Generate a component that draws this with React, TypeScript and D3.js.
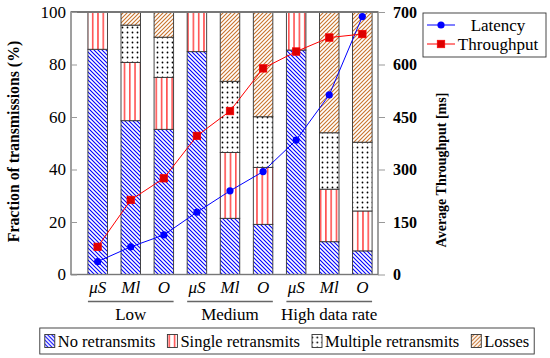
import React, { useEffect, useRef } from 'react';
import * as d3 from 'd3';

// groups / schemes on the x axis
const groups = ['Low', 'Medium', 'High data rate'];
const schemes = ['μS', 'Ml', 'O'];

// stacked shares (%) per bar, in group-major order
const noRetransmits = [85.8, 58.6, 55.3, 84.9, 21.4, 19.1, 85.5, 12.5, 9.0];
const singleRetransmits = [14.2, 22.2, 19.8, 15.1, 25.1, 21.7, 14.5, 20.0, 15.2];
const multipleRetransmits = [0, 14.2, 15.3, 0, 27.1, 19.3, 0, 21.5, 26.2];
const losses = [0, 5.0, 9.6, 0, 26.4, 39.9, 0, 46.0, 49.6];

// right axis series
const latency = [37, 79, 113, 178, 239, 294, 384, 513, 737];
const throughput = [79, 213, 275, 396, 467, 589, 637, 677, 687];

const leftTicks = [0, 20, 40, 60, 80, 100];
const rightTicks = [0, 150, 300, 450, 600, 750];
const rightTickLabels = ['0', '150', '300', '450', '600', '700'];

const stackKeys = ['none', 'single', 'multiple', 'losses'];
const legendLabels = ['No retransmits', 'Single retransmits', 'Multiple retransmits', 'Losses'];

const W = 550;
const H = 358;
const frame = { left: 71, right: 378, top: 12, bottom: 274.5 };
const FONT = 'Liberation Serif';
const FS = 17;

const App: React.FC = () => {
  const ref = useRef<SVGSVGElement>(null);

  useEffect(() => {
    const svg = d3.select(ref.current);
    svg.selectAll('*').remove();

    const barIds = groups.flatMap((g) => schemes.map((s) => `${g}|${s}`));
    const rows = barIds.map((id, i) => ({
      id,
      none: noRetransmits[i],
      single: singleRetransmits[i],
      multiple: multipleRetransmits[i],
      losses: losses[i],
    }));

    const x = d3.scaleBand().domain(barIds).range([78, 382]).paddingInner(0.41).paddingOuter(0.3);
    const y = d3.scaleLinear().domain([0, 100]).range([frame.bottom, frame.top]);
    const yR = d3.scaleLinear().domain([0, 750]).range([frame.bottom, frame.top]);

    // patterns
    const defs = svg.append('defs');
    const mk = (id: string, size: number, draw: (p: any) => void) => {
      const p = defs.append('pattern').attr('id', id).attr('patternUnits', 'userSpaceOnUse')
        .attr('width', size).attr('height', size);
      p.append('rect').attr('width', size).attr('height', size).attr('fill', 'white');
      draw(p);
    };
    mk('pat-none', 4, (p) => {
      p.append('path').attr('d', 'M-1,-1 L5,5 M-1,3 L1,5 M3,-1 L5,1').attr('stroke', '#0000ff').attr('stroke-width', 1.1);
    });
    mk('pat-single', 5.3, (p) => {
      p.append('line').attr('x1', 2.6).attr('x2', 2.6).attr('y1', 0).attr('y2', 5.3).attr('stroke', '#ff0000').attr('stroke-width', 1.1);
    });
    mk('pat-multiple', 5, (p) => {
      p.append('circle').attr('cx', 2.5).attr('cy', 2.5).attr('r', 0.9).attr('fill', 'black');
    });
    mk('pat-losses', 4, (p) => {
      p.append('path').attr('d', 'M-1,5 L5,-1 M-1,1 L1,-1 M3,5 L5,3').attr('stroke', '#c8732c').attr('stroke-width', 1.1);
    });

    svg.append('rect').attr('width', W).attr('height', H).attr('fill', 'white');

    // bars
    const stacked = d3.stack<any>().keys(stackKeys)(rows);
    const barG = svg.append('g');
    stacked.forEach((layer) => {
      barG.append('g').selectAll('rect').data(layer.filter((d) => d[1] - d[0] > 0)).enter().append('rect')
        .attr('x', (d) => x(d.data.id)!)
        .attr('width', x.bandwidth())
        .attr('y', (d) => y(d[1]))
        .attr('height', (d) => y(d[0]) - y(d[1]))
        .attr('fill', `url(#pat-${layer.key})`)
        .attr('stroke', '#333')
        .attr('stroke-width', 0.9);
    });

    // frame
    svg.append('rect').attr('x', frame.left).attr('y', frame.top)
      .attr('width', frame.right - frame.left).attr('height', frame.bottom - frame.top)
      .attr('fill', 'none').attr('stroke', '#777').attr('stroke-width', 1.4);
    svg.append('line').attr('x1', frame.left).attr('x2', frame.right).attr('y1', frame.top).attr('y2', frame.top)
      .attr('stroke', '#777').attr('stroke-width', 2);

    // left axis
    const la = svg.append('g').attr('transform', `translate(${frame.left},0)`)
      .call(d3.axisLeft(y).tickValues(leftTicks).tickSize(-6).tickPadding(5));
    la.select('.domain').remove();
    la.attr('font-family', FONT);
    la.selectAll('line').attr('stroke', '#999');
    la.selectAll('text').style('font-family', FONT).attr('font-size', FS).attr('fill', 'black');

    // right axis
    const ra = svg.append('g').attr('transform', `translate(${frame.right},0)`)
      .call(d3.axisRight(yR).tickValues(rightTicks).tickSize(7).tickPadding(8)
        .tickFormat((_d, i) => rightTickLabels[i]));
    ra.select('.domain').remove();
    ra.attr('font-family', FONT);
    ra.selectAll('line').attr('stroke', '#999');
    ra.selectAll('text').style('font-family', FONT).attr('font-size', 16).attr('font-weight', 'bold').attr('fill', 'black');

    // x tick labels
    svg.append('g').selectAll('text').data(barIds).enter().append('text')
      .attr('x', (d) => x(d)! + x.bandwidth() / 2)
      .attr('y', 293)
      .attr('text-anchor', 'middle')
      .style('font-family', FONT).attr('font-size', FS).attr('font-style', 'italic')
      .text((d) => d.split('|')[1]);

    // group labels with underline
    groups.forEach((g) => {
      const first = x(`${g}|${schemes[0]}`)!;
      const last = x(`${g}|${schemes[schemes.length - 1]}`)! + x.bandwidth();
      svg.append('line').attr('x1', first).attr('x2', last).attr('y1', 301.5).attr('y2', 301.5)
        .attr('stroke', '#666').attr('stroke-width', 1.4);
      svg.append('text').attr('x', (first + last) / 2).attr('y', 320).attr('text-anchor', 'middle')
        .style('font-family', FONT).attr('font-size', FS).text(g);
    });

    // lines
    const cx = (i: number) => x(barIds[i])! + x.bandwidth() / 2;
    const lineGen = d3.line<number>().x((_d, i) => cx(i)).y((d) => yR(d));
    svg.append('path').attr('d', lineGen(latency)).attr('fill', 'none').attr('stroke', '#0000ff').attr('stroke-width', 1);
    svg.append('path').attr('d', lineGen(throughput)).attr('fill', 'none').attr('stroke', '#ff0000').attr('stroke-width', 1);
    svg.append('g').selectAll('circle').data(latency).enter().append('circle')
      .attr('cx', (_d, i) => cx(i)).attr('cy', (d) => yR(d)).attr('r', 3.6).attr('fill', '#0000ff');
    svg.append('g').selectAll('rect').data(throughput).enter().append('rect')
      .attr('x', (_d, i) => cx(i) - 3.8).attr('y', (d) => yR(d) - 3.8)
      .attr('width', 7.6).attr('height', 7.6).attr('fill', '#dd0000').attr('stroke', '#ff0000').attr('stroke-width', 0.6);

    // axis titles
    svg.append('text').attr('transform', `translate(19,141.5) rotate(-90)`).attr('text-anchor', 'middle')
      .style('font-family', FONT).attr('font-size', 15.8).attr('font-weight', 'bold')
      .text('Fraction of transmissions (%)');
    svg.append('text').attr('transform', `translate(446,170) rotate(-90)`).attr('text-anchor', 'middle')
      .style('font-family', FONT).attr('font-size', 14).attr('font-weight', 'bold')
      .text('Average Throughput [ms]');

    // line legend
    const lg = svg.append('g');
    lg.append('rect').attr('x', 423).attr('y', 13).attr('width', 123).attr('height', 44)
      .attr('fill', 'white').attr('stroke', '#333').attr('stroke-width', 0.9);
    [
      { label: 'Latency', color: '#0000ff', y: 25, shape: 'circle' },
      { label: 'Throughput', color: '#ff0000', y: 44, shape: 'square' },
    ].forEach((e) => {
      lg.append('line').attr('x1', 427).attr('x2', 455).attr('y1', e.y).attr('y2', e.y).attr('stroke', e.color);
      if (e.shape === 'circle') {
        lg.append('circle').attr('cx', 441).attr('cy', e.y).attr('r', 3.6).attr('fill', '#0000ff');
      } else {
        lg.append('rect').attr('x', 441 - 3.8).attr('y', e.y - 3.8).attr('width', 7.6).attr('height', 7.6)
          .attr('fill', '#dd0000').attr('stroke', '#ff0000').attr('stroke-width', 0.6);
      }
      lg.append('text').attr('x', 498).attr('y', e.y + 5.5).attr('text-anchor', 'middle')
        .style('font-family', FONT).attr('font-size', FS).text(e.label);
    });

    // pattern legend
    const bl = svg.append('g');
    const box = bl.append('rect').attr('y', 328).attr('height', 26)
      .attr('fill', 'white').attr('stroke', '#333').attr('stroke-width', 0.9);
    const items = bl.append('g');
    let cursor = 0;
    stackKeys.forEach((k, i) => {
      items.append('rect').attr('x', cursor).attr('y', 334.5).attr('width', 10).attr('height', 13)
        .attr('fill', `url(#pat-${k})`).attr('stroke', '#333').attr('stroke-width', 0.9);
      const t = items.append('text').attr('x', cursor + 13).attr('y', 346.5)
        .style('font-family', FONT).attr('font-size', 16.5).text(legendLabels[i]);
      const w = (t.node() as SVGTextElement).getComputedTextLength();
      cursor += 13 + w + (i < stackKeys.length - 1 ? 12 : 0);
    });
    const center = 287;
    const start = center - cursor / 2;
    items.attr('transform', `translate(${start},0)`);
    box.attr('x', start - 5).attr('width', cursor + 10);
  }, []);

  return (
    <svg ref={ref} width={W} height={H} style={{ position: 'absolute', left: 0, top: 0, display: 'block' }} />
  );
};

export default App;
